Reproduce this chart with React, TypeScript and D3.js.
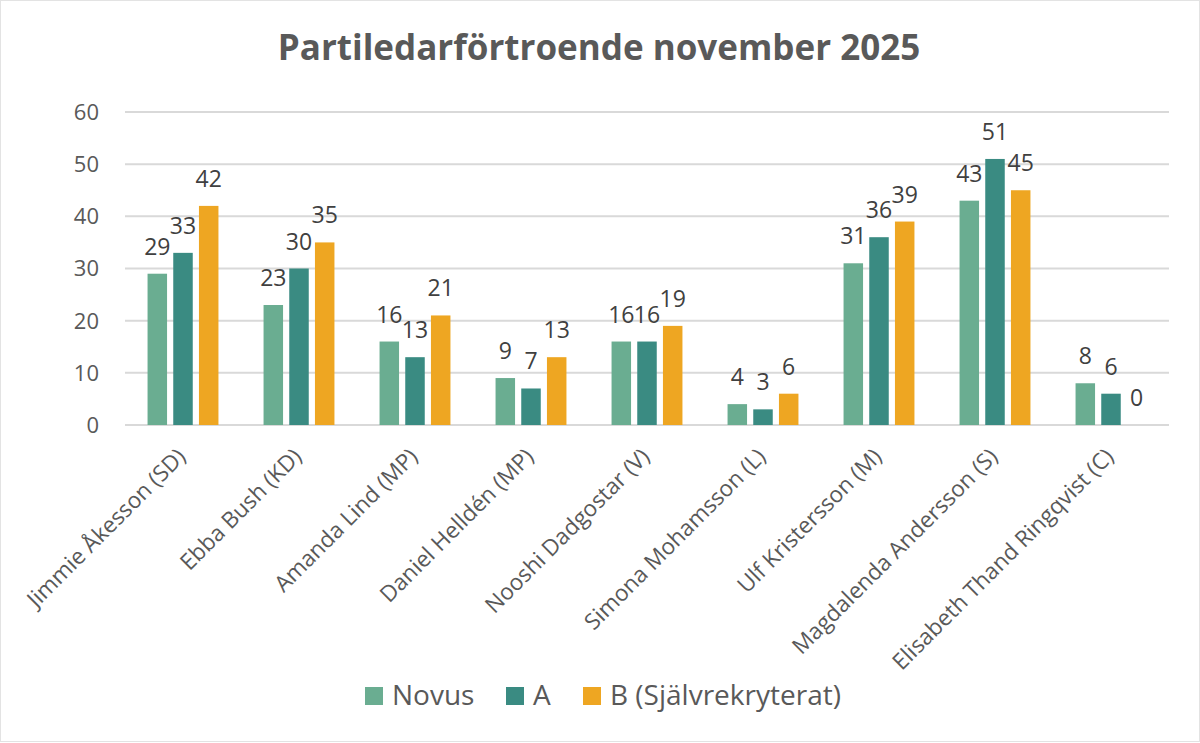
import React, { useEffect, useRef } from "react";
import * as d3 from "d3";

const leaders = [
  "Jimmie Åkesson (SD)",
  "Ebba Bush (KD)",
  "Amanda Lind (MP)",
  "Daniel Helldén (MP)",
  "Nooshi Dadgostar (V)",
  "Simona Mohamsson (L)",
  "Ulf Kristersson (M)",
  "Magdalenda Andersson (S)",
  "Elisabeth Thand Ringqvist (C)",
];
const seriesNames = ["Novus", "A", "B (Självrekryterat)"];
const novus = [29, 23, 16, 9, 16, 4, 31, 43, 8];
const seriesA = [33, 30, 13, 7, 16, 3, 36, 51, 6];
const seriesB = [42, 35, 21, 13, 19, 6, 39, 45, 0];
const yTicks = [0, 10, 20, 30, 40, 50, 60];

const colors = ["#6aad91", "#3a8b82", "#eea622"];
const textColor = "#595959";

const App = () => {
  const svgRef = useRef<SVGSVGElement | null>(null);

  useEffect(() => {
    document.body.style.margin = "0";
    const width = 1200;
    const height = 743;
    const margin = { top: 112, right: 31, bottom: 318, left: 125 };
    const font = "'Open Sans', sans-serif";

    const svg = d3.select(svgRef.current);
    svg.selectAll("*").remove();
    svg.attr("width", width).attr("height", height);

    svg
      .append("rect")
      .attr("x", 0.5)
      .attr("y", 0.5)
      .attr("width", width - 1)
      .attr("height", height - 2)
      .attr("fill", "white")
      .attr("stroke", "#e3e3e3");

    const x = d3
      .scaleBand()
      .domain(leaders)
      .range([margin.left, width - margin.right]);

    const y = d3
      .scaleLinear()
      .domain([0, 60])
      .range([height - margin.bottom, margin.top]);

    const step = 25.7;
    const barW = 19.5;
    const all = [novus, seriesA, seriesB];

    // gridlines
    svg
      .append("g")
      .selectAll("line")
      .data(yTicks)
      .join("line")
      .attr("x1", margin.left)
      .attr("x2", width - margin.right)
      .attr("y1", (d) => y(d))
      .attr("y2", (d) => y(d))
      .attr("stroke", "#d9d9d9")
      .attr("stroke-width", 2);

    // y tick labels
    svg
      .append("g")
      .selectAll("text")
      .data(yTicks)
      .join("text")
      .attr("x", 99)
      .attr("y", (d) => y(d))
      .attr("dy", "0.36em")
      .attr("text-anchor", "end")
      .attr("font-family", font)
      .attr("font-size", 22)
      .attr("fill", textColor)
      .text((d) => d);

    // bars + value labels
    all.forEach((vals, si) => {
      const g = svg.append("g");
      const cxOf = (i: number) => x(leaders[i])! + x.bandwidth() / 2 + (si - 1) * step;
      g.selectAll("rect")
        .data(vals)
        .join("rect")
        .attr("x", (_, i) => cxOf(i) - barW / 2)
        .attr("y", (d) => y(d))
        .attr("width", barW)
        .attr("height", (d) => y(0) - y(d))
        .attr("fill", colors[si]);
      g.selectAll("text")
        .data(vals)
        .join("text")
        .attr("x", (_, i) => cxOf(i))
        .attr("y", (d) => y(d) - 19)
        .attr("text-anchor", "middle")
        .attr("font-family", font)
        .attr("font-size", 23)
        .attr("fill", "#404040")
        .text((d) => d);
    });

    // x labels
    svg
      .append("g")
      .selectAll("text")
      .data(leaders)
      .join("text")
      .attr(
        "transform",
        (d) => `translate(${x(d)! + x.bandwidth() / 2 + 4},${y(0) + 33}) rotate(-45)`
      )
      .attr("text-anchor", "end")
      .attr("font-family", font)
      .attr("font-size", 22.5)
      .attr("fill", textColor)
      .text((d) => d);

    // title
    svg
      .append("text")
      .attr("x", 599)
      .attr("y", 60)
      .attr("text-anchor", "middle")
      .attr("font-family", font)
      .attr("font-weight", "bold")
      .attr("font-size", 35)
      .attr("fill", textColor)
      .text("Partiledarförtroende november 2025");

    // legend
    const legendX = [365, 506, 583];
    seriesNames.forEach((name, i) => {
      const g = svg.append("g").attr("transform", `translate(${legendX[i]},687)`);
      g.append("rect").attr("width", 18).attr("height", 18).attr("fill", colors[i]);
      g.append("text")
        .attr("x", 27)
        .attr("y", 18)
        .attr("font-family", font)
        .attr("font-size", 28)
        .attr("fill", textColor)
        .text(name);
    });
  }, []);

  return <svg ref={svgRef} />;
};

export default App;
